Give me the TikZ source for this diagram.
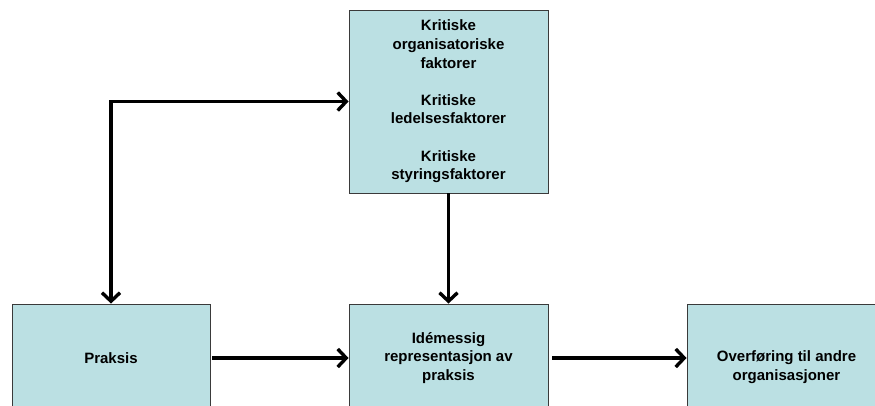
\documentclass[tikz,border=0pt]{standalone}
\usepackage{fontspec}
\setmainfont{Liberation Sans}
\usetikzlibrary{arrows.meta}
\definecolor{boxfill}{HTML}{BBE0E3}
\definecolor{boxline}{HTML}{3A3A3A}
\tikzset{
  box/.style={draw=boxline, line width=0.9pt, fill=boxfill, inner sep=0pt,
    font=\bfseries\fontsize{15}{18.6}\selectfont, align=center},
  txt/.style={font=\bfseries\fontsize{15}{18.6}\selectfont, align=center, inner sep=0pt},
  flow/.style={line width=3.6pt, line join=miter,
    -{Straight Barb[length=8.5pt,width=18pt,line width=3.4pt]}},
  twoway/.style={line width=3.6pt, line join=miter,
    {Straight Barb[length=8.5pt,width=18pt,line width=3.4pt]}-{Straight Barb[length=8.5pt,width=18pt,line width=3.4pt]}},
}
\begin{document}
\begin{tikzpicture}[x=1pt, y=-1pt]
  \useasboundingbox (0,0) rectangle (875,405);
  \clip (0,0) rectangle (875,405);

  % factor box at the top
  \node[box, minimum width=199pt, minimum height=183pt] (factors) at (448.5,101.5)
    {Kritiske\\organisatoriske\\faktorer\\[18.6pt]Kritiske\\ledelsesfaktorer\\[18.6pt]Kritiske\\styringsfaktorer};

  % lower row
  \node[box, minimum width=198pt, minimum height=108pt] (praksis) at (111,358) {Praksis};
  \node[box, minimum width=199pt, minimum height=108pt] (idem) at (448.5,358)
    {Idémessig\\representasjon av\\praksis};
  \node[box, minimum width=199pt, minimum height=108pt] (transfer) at (786.5,358) {};
  \node[txt] (transfertext) at ([yshift=-9pt]transfer.center)
    {Overføring til andre\\organisasjoner};

  % connectors
  \draw[twoway] (praksis.north) |- (factors.west);
  \draw[flow] (factors.south) -- (idem.north);
  \draw[flow, shorten <=2pt] (praksis.east) -- (idem.west);
  \draw[flow, shorten <=4pt] (idem.east) -- (transfer.west);
\end{tikzpicture}
\end{document}
